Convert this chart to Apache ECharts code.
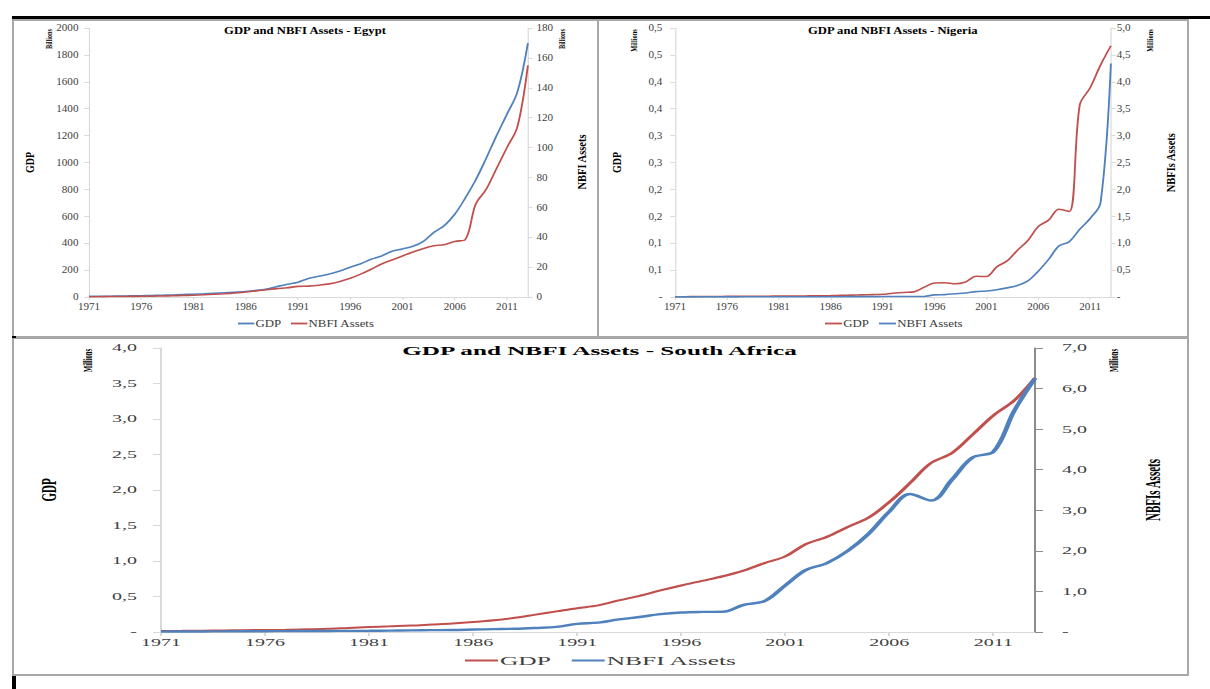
<!DOCTYPE html>
<html>
<head>
<meta charset="utf-8">
<script src="https://cdn.jsdelivr.net/npm/echarts@6/dist/echarts.min.js"></script>
<style>
  html, body { margin: 0; padding: 0; background: #fff; width: 1210px; height: 689px; overflow: hidden; position: relative; }
  .chart { position: absolute; transform-origin: 0 0; }
  .frame { position: absolute; border: 2px solid #a8a8a8; box-sizing: border-box; pointer-events: none; }
  .bar { position: absolute; background: #000; pointer-events: none; }
</style>
</head>
<body>
<div id="egypt" class="chart" style="left:0;top:0;width:511.1px;height:337px;transform:scaleX(1.17)"></div>
<div id="nigeria" class="chart" style="left:598px;top:0;width:523.1px;height:337px;transform:scaleX(1.17)"></div>
<div id="safrica" class="chart" style="left:0;top:337px;width:605px;height:352px;transform:scaleX(2)"></div>

<div class="frame" style="left:12px;top:19px;width:587px;height:319px"></div>
<div class="frame" style="left:597px;top:19px;width:592px;height:319px"></div>
<div class="frame" style="left:12px;top:337px;width:1177px;height:339px"></div>
<div class="bar" style="left:12px;top:16px;width:1198px;height:3px"></div>
<div class="bar" style="left:12px;top:336px;width:4px;height:2px"></div>
<div class="bar" style="left:12px;top:676px;width:4px;height:13px"></div>

<script>
// Years on the horizontal axis
const years = ['1971','1972','1973','1974','1975','1976','1977','1978','1979','1980',
  '1981','1982','1983','1984','1985','1986','1987','1988','1989','1990',
  '1991','1992','1993','1994','1995','1996','1997','1998','1999','2000',
  '2001','2002','2003','2004','2005','2006','2007','2008','2009','2010',
  '2011','2012','2013'];

// Egypt, billions
const egyptGdp = [5, 5.5, 6, 7, 8, 9, 11, 13, 15, 18,
  21, 24, 28, 32, 36, 41, 49, 60, 78, 95,
  110, 137, 154, 171, 194, 221, 248, 280, 305, 340,
  357, 377, 414, 481, 531, 615, 735, 870, 1030, 1200,
  1360, 1525, 1888];
const egyptNbfi = [0.2, 0.2, 0.3, 0.3, 0.4, 0.5, 0.6, 0.7, 0.8, 1.0,
  1.2, 1.5, 1.8, 2.2, 2.7, 3.3, 4.1, 4.9, 5.6, 6.2,
  7.1, 7.3, 7.9, 8.8, 10.4, 12.5, 15.3, 18.6, 22.1, 24.8,
  27.5, 30.1, 32.5, 34.3, 35.0, 37.2, 38.4, 62, 72, 86,
  100, 114, 155];

// Nigeria, millions
const nigeriaGdp = [0.0005, 0.0006, 0.0007, 0.0009, 0.001, 0.0011, 0.0012, 0.0013, 0.0014, 0.0015,
  0.0016, 0.0017, 0.0018, 0.002, 0.0022, 0.0025, 0.003, 0.0035, 0.004, 0.0045,
  0.005, 0.007, 0.0085, 0.0095, 0.018, 0.026, 0.0265, 0.0245, 0.028, 0.0385,
  0.038, 0.056, 0.067, 0.087, 0.105, 0.131, 0.143, 0.163, 0.159, 0.357,
  0.389, 0.431, 0.467];
const nigeriaNbfi = [0.002, 0.002, 0.002, 0.003, 0.003, 0.003, 0.003, 0.004, 0.004, 0.004,
  0.004, 0.005, 0.005, 0.005, 0.006, 0.006, 0.006, 0.007, 0.007, 0.007,
  0.008, 0.008, 0.008, 0.008, 0.01, 0.04, 0.045, 0.06, 0.075, 0.1,
  0.112, 0.135, 0.17, 0.215, 0.3, 0.48, 0.7, 0.95, 1.03, 1.26,
  1.46, 1.75, 4.34];

// South Africa, millions
const saGdp = [0.014, 0.016, 0.019, 0.022, 0.025, 0.028, 0.032, 0.037, 0.045, 0.058,
  0.07, 0.08, 0.09, 0.105, 0.12, 0.14, 0.165, 0.2, 0.245, 0.29,
  0.335, 0.375, 0.445, 0.51, 0.585, 0.655, 0.72, 0.785, 0.865, 0.97,
  1.065, 1.24, 1.34, 1.48, 1.61, 1.83, 2.10, 2.38, 2.52, 2.78,
  3.05, 3.26, 3.58];
const saNbfi = [0.01, 0.012, 0.014, 0.016, 0.018, 0.02, 0.022, 0.024, 0.026, 0.028,
  0.03, 0.035, 0.04, 0.045, 0.05, 0.06, 0.07, 0.08, 0.1, 0.125,
  0.2, 0.23, 0.31, 0.37, 0.44, 0.48, 0.495, 0.5, 0.67, 0.76,
  1.15, 1.53, 1.70, 2.0, 2.42, 2.97, 3.40, 3.24, 3.75, 4.30,
  4.44, 5.45, 6.25];

// Tick labels, bottom to top
const egyptGdpTicks = ['0','200','400','600','800','1000','1200','1400','1600','1800','2000'];
const egyptNbfiTicks = ['0','20','40','60','80','100','120','140','160','180'];
const nigeriaGdpTicks = ['-','0,1','0,1','0,2','0,2','0,3','0,3','0,4','0,4','0,5','0,5'];
const nigeriaNbfiTicks = ['-','0,5','1,0','1,5','2,0','2,5','3,0','3,5','4,0','4,5','5,0'];
const saGdpTicks = ['-','0,5','1,0','1,5','2,0','2,5','3,0','3,5','4,0'];
const saNbfiTicks = ['-','1,0','2,0','3,0','4,0','5,0','6,0','7,0'];

const BLUE = '#4f81bd';
const RED = '#c0504d';
const FONT = 'Liberation Serif';
const INK = '#404040';

function valueAxis(p, pos, axisColor, ticks) {
  return {
    type: 'value', position: pos, min: p.min, max: p.max, interval: p.interval,
    axisLine: { show: true, lineStyle: { color: axisColor, width: 1 } },
    axisTick: { show: true, length: 4, lineStyle: { color: axisColor } },
    splitLine: { show: false },
    axisLabel: {
      margin: p.margin, color: INK, fontFamily: FONT, fontSize: p.fontSize,
      formatter: function (v) { return ticks[Math.round(v / p.interval)]; }
    }
  };
}

function textEl(t) {
  return {
    type: 'text', x: t.x, y: t.y, rotation: t.rotate ? Math.PI / 2 : 0,
    style: {
      text: t.text, fill: t.color || '#000',
      font: (t.weight || 'bold') + ' ' + t.size + 'px "' + FONT + '"',
      textAlign: 'center', textVerticalAlign: 'middle'
    }
  };
}

function build(id, s) {
  const chart = echarts.init(document.getElementById(id), null, { renderer: 'svg' });
  chart.setOption({
    animation: false,
    grid: s.grid,
    xAxis: {
      type: 'category', data: years, boundaryGap: false,
      axisLine: { lineStyle: { color: s.xAxisColor } },
      axisTick: { show: true, interval: 4, length: s.xTickLen, lineStyle: { color: s.xAxisColor } },
      axisLabel: { interval: 4, margin: s.xMargin, color: INK, fontFamily: FONT, fontSize: s.xFont },
      splitLine: { show: false }
    },
    yAxis: [
      valueAxis(s.left, 'left', s.leftAxisColor, s.left.ticks),
      valueAxis(s.right, 'right', s.rightAxisColor, s.right.ticks)
    ],
    legend: {
      data: s.series.map(function (d) { return { name: d.name, icon: 'rect' }; }),
      left: s.legend.left, top: s.legend.top, padding: 0,
      itemWidth: s.legend.itemWidth, itemHeight: s.legend.itemHeight, itemGap: s.legend.itemGap,
      textStyle: { fontFamily: FONT, fontSize: s.legend.fontSize, color: INK, padding: [0, 0, 0, -4] }
    },
    series: s.series.map(function (d) {
      return {
        name: d.name, type: 'line', data: d.data, yAxisIndex: d.axis,
        smooth: 0.35, symbol: 'none',
        lineStyle: { color: d.color, width: d.width },
        itemStyle: { color: d.color }
      };
    }),
    graphic: s.texts.map(textEl)
  });
}

build('egypt', {
  grid: { left: 76.07, right: 59.8, top: 28, height: 269 },
  xAxisColor: '#d9d9d9', leftAxisColor: '#d9d9d9', rightAxisColor: '#d9d9d9',
  xTickLen: 3, xMargin: 5, xFont: 9.5,
  left: { min: 0, max: 2000, interval: 200, margin: 9, fontSize: 9.5, ticks: egyptGdpTicks },
  right: { min: 0, max: 180, interval: 20, margin: 7.3, fontSize: 9.5, ticks: egyptNbfiTicks },
  legend: { left: 203.4, top: 318, itemWidth: 14, itemHeight: 1.8, itemGap: 8.3, fontSize: 11 },
  series: [
    { name: 'GDP', data: egyptGdp, axis: 0, color: BLUE, width: 1.6 },
    { name: 'NBFI Assets', data: egyptNbfi, axis: 1, color: RED, width: 1.6 }
  ],
  texts: [
    { text: 'GDP and NBFI Assets - Egypt', x: 260.7, y: 31, size: 10.8 },
    { text: 'Billions', x: 41.9, y: 39, size: 6.2, rotate: true },
    { text: 'Billions', x: 480.3, y: 39, size: 6.2, rotate: true },
    { text: 'GDP', x: 25.6, y: 162.5, size: 10, rotate: true },
    { text: 'NBFI Assets', x: 497.4, y: 162, size: 10.5, rotate: true }
  ]
});

build('nigeria', {
  grid: { left: 65.81, right: 84.62, top: 28, height: 269 },
  xAxisColor: '#d9d9d9', leftAxisColor: '#d9d9d9', rightAxisColor: '#d9d9d9',
  xTickLen: 3, xMargin: 5, xFont: 9.5,
  left: { min: 0, max: 0.5, interval: 0.05, margin: 10.8, fontSize: 9.5, ticks: nigeriaGdpTicks },
  right: { min: 0, max: 5, interval: 0.5, margin: 5, fontSize: 9.5, ticks: nigeriaNbfiTicks },
  legend: { left: 194, top: 318, itemWidth: 14.6, itemHeight: 1.8, itemGap: 8.5, fontSize: 11 },
  series: [
    { name: 'GDP', data: nigeriaGdp, axis: 0, color: RED, width: 1.6 },
    { name: 'NBFI Assets', data: nigeriaNbfi, axis: 1, color: BLUE, width: 1.6 }
  ],
  texts: [
    { text: 'GDP and NBFI Assets - Nigeria', x: 251.9, y: 31, size: 10.8 },
    { text: 'Millions', x: 31.6, y: 40.5, size: 6.4, rotate: true },
    { text: 'Millions', x: 472.6, y: 40.5, size: 6.4, rotate: true },
    { text: 'GDP', x: 15.8, y: 162.5, size: 10, rotate: true },
    { text: 'NBFIs Assets', x: 489.7, y: 162.7, size: 10.5, rotate: true }
  ]
});

build('safrica', {
  grid: { left: 80.5, right: 87.5, top: 11, height: 284 },
  xAxisColor: '#d9d9d9', leftAxisColor: '#d9d9d9', rightAxisColor: '#8c8c8c',
  xTickLen: 4, xMargin: 6, xFont: 10,
  left: { min: 0, max: 4, interval: 0.5, margin: 12, fontSize: 10, ticks: saGdpTicks },
  right: { min: 0, max: 7, interval: 1, margin: 13.5, fontSize: 10, ticks: saNbfiTicks },
  legend: { left: 232.5, top: 317, itemWidth: 16.5, itemHeight: 2, itemGap: 10.5, fontSize: 12.7 },
  series: [
    { name: 'GDP', data: saGdp, axis: 0, color: RED, width: 2 },
    { name: 'NBFI Assets', data: saNbfi, axis: 1, color: BLUE, width: 2.4 }
  ],
  texts: [
    { text: 'GDP and NBFI Assets - South Africa', x: 299.75, y: 13.3, size: 12.6 },
    { text: 'Millions', x: 44, y: 23.5, size: 6.6, rotate: true },
    { text: 'Millions', x: 557, y: 23.5, size: 6.6, rotate: true },
    { text: 'GDP', x: 24.3, y: 153, size: 11, rotate: true },
    { text: 'NBFIs Assets', x: 576.75, y: 153, size: 11, rotate: true }
  ]
});
</script>
</body>
</html>
